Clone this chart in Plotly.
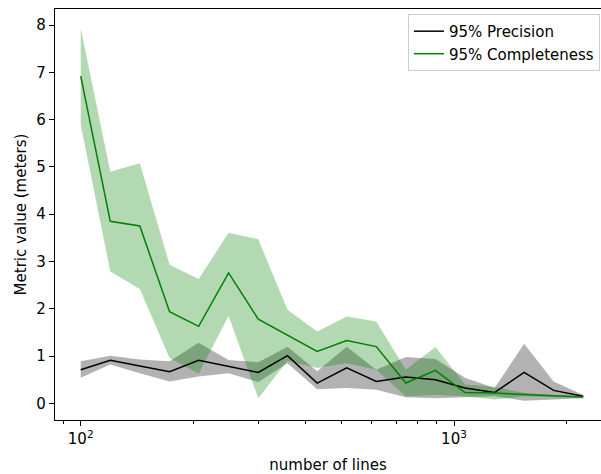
import plotly.graph_objects as go

# number of lines (x, log scale)
n_lines = [100, 120, 144, 173, 207, 249, 299, 358, 430, 516, 619, 743, 892, 1070, 1284, 1541, 1849, 2219]

# 95% Precision (black)
prec_mid = [0.71, 0.91, 0.79, 0.67, 0.91, 0.78, 0.655, 1.01, 0.43, 0.75, 0.465, 0.56, 0.50, 0.325, 0.23, 0.655, 0.275, 0.15]
prec_upper = [0.89, 1.01, 0.93, 0.89, 1.28, 0.92, 0.87, 1.20, 0.68, 1.20, 0.71, 0.98, 0.94, 0.54, 0.325, 1.26, 0.465, 0.18]
prec_lower = [0.54, 0.82, 0.64, 0.465, 0.57, 0.64, 0.45, 0.85, 0.30, 0.325, 0.29, 0.13, 0.11, 0.135, 0.15, 0.057, 0.08, 0.11]

# 95% Completeness (green)
comp_mid = [6.92, 3.85, 3.75, 1.94, 1.63, 2.76, 1.78, 1.45, 1.10, 1.33, 1.20, 0.43, 0.70, 0.23, 0.22, 0.19, 0.16, 0.135]
comp_upper = [7.93, 4.90, 5.08, 2.93, 2.63, 3.61, 3.47, 1.98, 1.52, 1.84, 1.73, 0.71, 1.19, 0.40, 0.35, 0.22, 0.18, 0.15]
comp_lower = [5.89, 2.79, 2.42, 0.96, 0.63, 1.85, 0.11, 0.90, 0.75, 0.85, 0.71, 0.15, 0.18, 0.15, 0.08, 0.15, 0.13, 0.12]

x_tickvals = [100, 1000]
x_ticktext = ["10<sup>2</sup>", "10<sup>3</sup>"]
x_minor = [90, 200, 300, 400, 500, 600, 700, 800, 900, 2000]
y_tickvals = [0, 1, 2, 3, 4, 5, 6, 7, 8]

FONT = "DejaVu Sans"
FS = 15

fig = go.Figure()
fig.add_trace(go.Scatter(x=n_lines, y=prec_lower, mode="lines", line=dict(width=0),
                         showlegend=False, hoverinfo="skip"))
fig.add_trace(go.Scatter(x=n_lines, y=prec_upper, mode="lines", line=dict(width=0),
                         fill="tonexty", fillcolor="rgba(0,0,0,0.3)",
                         showlegend=False, hoverinfo="skip"))
fig.add_trace(go.Scatter(x=n_lines, y=comp_lower, mode="lines", line=dict(width=0),
                         showlegend=False, hoverinfo="skip"))
fig.add_trace(go.Scatter(x=n_lines, y=comp_upper, mode="lines", line=dict(width=0),
                         fill="tonexty", fillcolor="rgba(0,128,0,0.3)",
                         showlegend=False, hoverinfo="skip"))
fig.add_trace(go.Scatter(x=n_lines, y=prec_mid, mode="lines", name="95% Precision",
                         line=dict(color="black", width=1.5)))
fig.add_trace(go.Scatter(x=n_lines, y=comp_mid, mode="lines", name="95% Completeness",
                         line=dict(color="green", width=1.5)))

fig.update_layout(
    width=601, height=474,
    margin=dict(l=55, r=0, t=9, b=54),
    paper_bgcolor="white", plot_bgcolor="white",
    font=dict(family=FONT, size=FS, color="black"),
    showlegend=True,
    legend=dict(x=0.998, y=0.988, xanchor="right", yanchor="top", traceorder="normal",
                bgcolor="rgba(255,255,255,0.8)", bordercolor="#cccccc", borderwidth=1,
                font=dict(family=FONT, size=FS, color="black"), itemwidth=30),
    xaxis=dict(type="log", range=[1.9311, 3.3938],
               showgrid=False, zeroline=False,
               showline=True, linecolor="black", linewidth=1.2, mirror=True,
               ticks="outside", ticklen=5, tickwidth=1.2, tickcolor="black",
               tickmode="array", tickvals=x_tickvals, ticktext=x_ticktext,
               minor=dict(tickmode="array", tickvals=x_minor, ticks="outside",
                          ticklen=3, tickwidth=1, tickcolor="black", showgrid=False),
               title=dict(text="number of lines", standoff=12,
                          font=dict(family=FONT, size=FS))),
    yaxis=dict(range=[-0.351, 8.339],
               showgrid=False, zeroline=False,
               showline=True, linecolor="black", linewidth=1.2, mirror=False,
               ticks="outside", ticklen=5, tickwidth=1.2, tickcolor="black",
               tickmode="array", tickvals=y_tickvals,
               title=dict(text="Metric value (meters)", standoff=6,
                          font=dict(family=FONT, size=FS))),
)

fig.write_html("out.html")
